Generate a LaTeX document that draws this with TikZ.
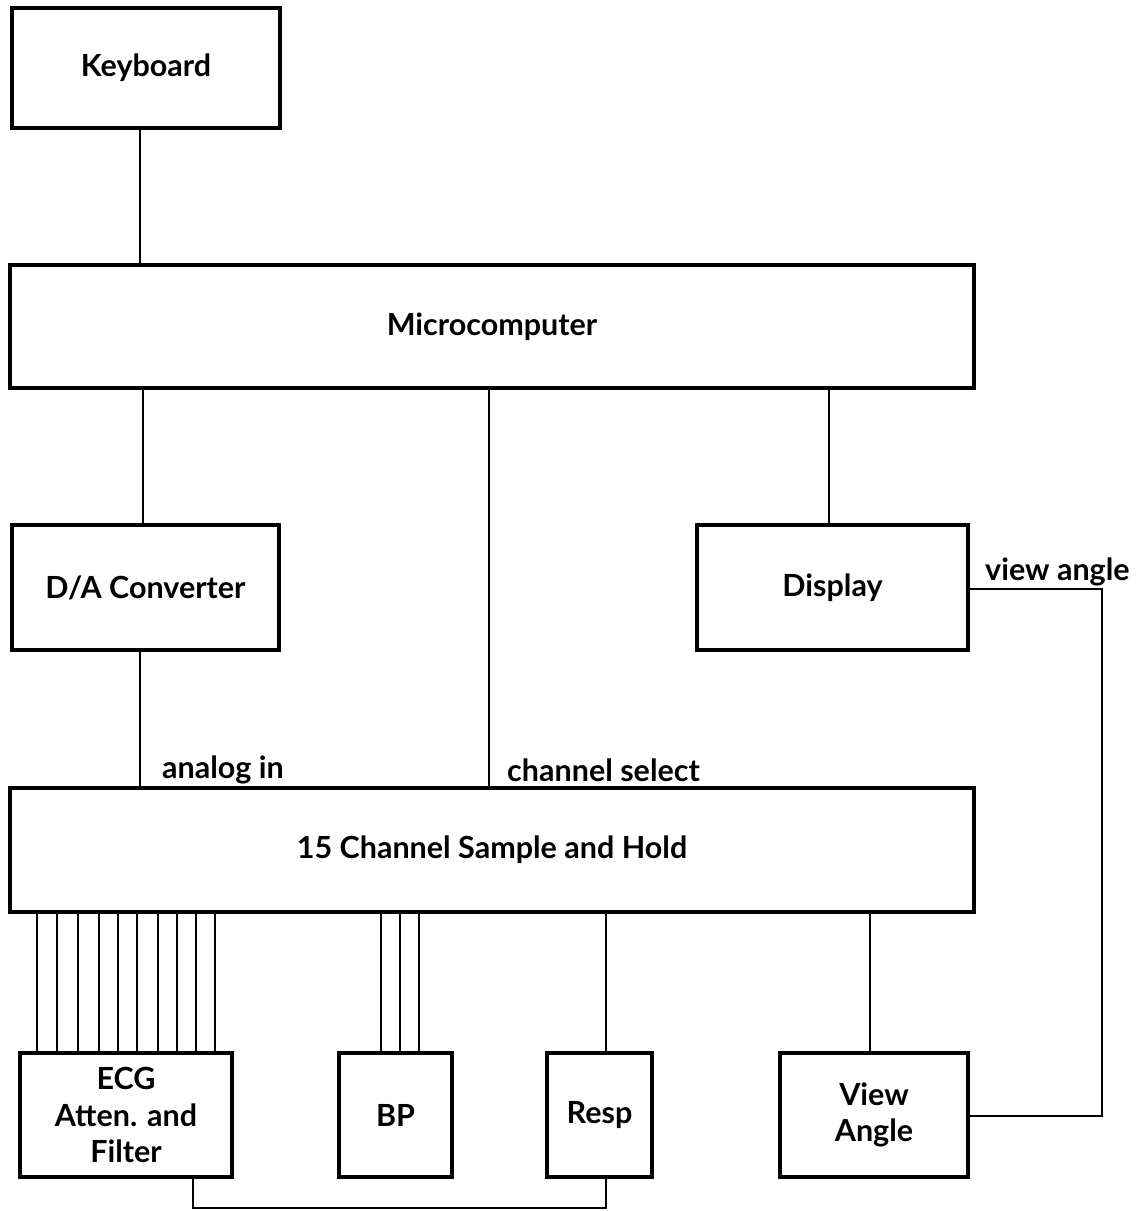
\documentclass[tikz,border=0pt]{standalone}
\usepackage{fontspec}
\setmainfont{Lato}
\begin{document}
\begin{tikzpicture}[x=1pt,y=-1pt,
  box/.style={draw,line width=3.2pt,inner sep=0pt,align=center,font=\fontsize{30.5}{36.5}\selectfont\bfseries},
  wire/.style={line width=2.8pt},
  lbl/.style={font=\fontsize{30.5}{32}\selectfont\bfseries,inner sep=0pt}]
\useasboundingbox (0,0) rectangle (1138,1211);
\node[box,minimum width=268pt,minimum height=120pt] (kb) at (146,68) {\raisebox{-4pt}{Keyboard}};
\node[box,minimum width=964pt,minimum height=123pt] (mc) at (492,326.5) {\raisebox{-2pt}{Microcomputer}};
\node[box,minimum width=267pt,minimum height=125pt] (da) at (145.5,587.5) {\raisebox{-3pt}{D/A Converter}};
\node[box,minimum width=271pt,minimum height=125pt] (dp) at (832.5,587.5) {Display};
\node[box,minimum width=964pt,minimum height=124pt] (sh) at (492,850) {\raisebox{-3pt}{15 Channel Sample and Hold}};
\node[box,minimum width=212pt,minimum height=124pt] (ecg) at (126,1115) {ECG\\Atten. and\\Filter};
\node[box,minimum width=113pt,minimum height=124pt] (bp) at (395.5,1115) {BP};
\node[box,minimum width=105pt,minimum height=124pt] (rs) at (599.5,1115) {Resp};
\node[box,minimum width=188pt,minimum height=124pt] (va) at (874,1115) {View\\Angle};
% wires
\draw[wire] (kb.south -| 140,0) -- (mc.north -| 140,0);
\draw[wire] (mc.south -| 143,0) -- (da.north -| 143,0);
\draw[wire] (mc.south -| 829,0) -- (dp.north -| 829,0);
\draw[wire] (mc.south -| 489,0) -- (sh.north -| 489,0);
\draw[wire] (da.south -| 140,0) -- (sh.north -| 140,0);
\foreach \x in {37,57,78,99,118,137,158,177,196,215}
  \draw[wire] (sh.south -| \x,0) -- (ecg.north -| \x,0);
\foreach \x in {381,400,419}
  \draw[wire] (sh.south -| \x,0) -- (bp.north -| \x,0);
\draw[wire] (sh.south -| 606,0) -- (rs.north -| 606,0);
\draw[wire] (sh.south -| 870,0) -- (va.north -| 870,0);
\coordinate (b1) at (193,1208);
\draw[wire] (ecg.south -| b1) -- (b1) -- (606,1208) -- (rs.south -| 606,0);
\coordinate (r1) at (1102,589);
\draw[wire] (dp.east |- r1) -- (r1) -- (1102,1116) -- (va.east |- 0,1116);
% labels
\node[lbl,anchor=west] (l1) at (162,770) {analog in};
\node[lbl,anchor=west] (l2) at (507,770) {channel select};
\node[lbl,anchor=west] (l3) at (985,572) {view angle};
\end{tikzpicture}
\end{document}
